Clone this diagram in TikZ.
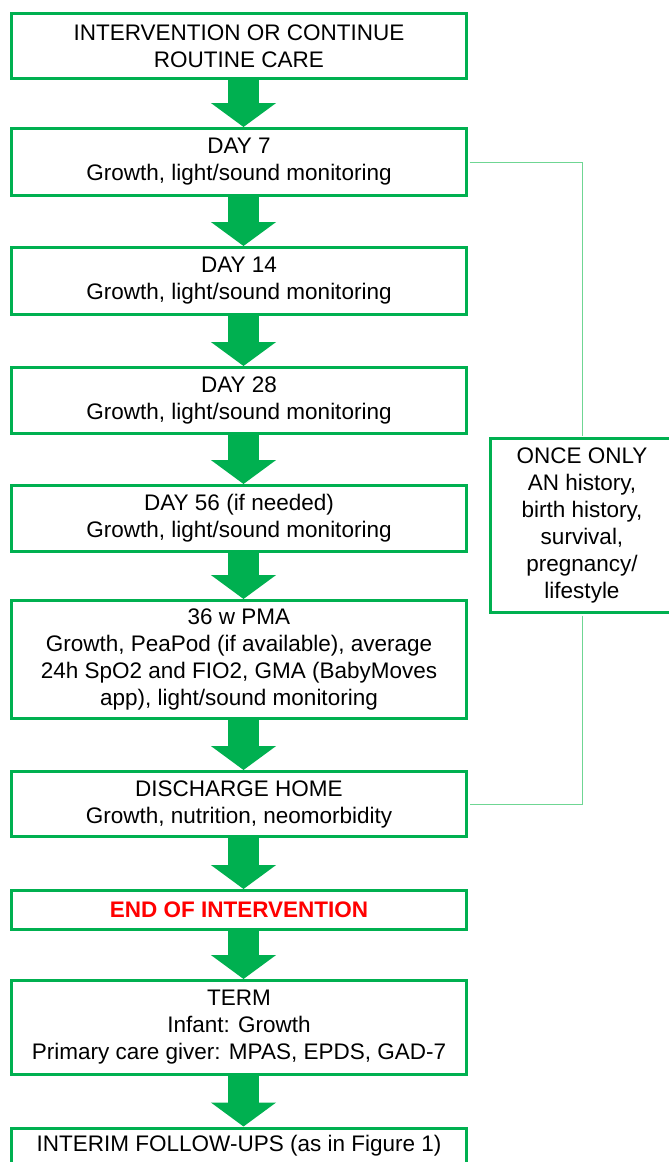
\documentclass[tikz,border=0pt]{standalone}
\usepackage{fontspec}
\setmainfont{Liberation Sans}
\usetikzlibrary{arrows.meta,calc}
\definecolor{grn}{HTML}{00B050}
\definecolor{lgrn}{HTML}{6FD693}
\definecolor{endred}{HTML}{FF0000}
\begin{document}
\begin{tikzpicture}[x=1pt,y=1pt,
  box/.style={draw=grn, line width=3pt, fill=white, align=center, minimum width=455pt, inner sep=0pt, font=\fontsize{22.5}{27}\selectfont},
  flow/.style={draw=grn, line width=31pt, -{Triangle[length=24pt,width=64pt]}},
  conn/.style={draw=lgrn, line width=1pt}]
\useasboundingbox (0,0) rectangle (669,-1162);
\clip (0,0) rectangle (669,-1162);
\fill[white] (0,0) rectangle (669,-1162);
\coordinate (ax) at (243.5,0);
\node[box, minimum height=65pt] (b1) at (239,-46) {INTERVENTION OR CONTINUE\\ROUTINE CARE};
\node[box, minimum height=67pt] (b2) at (239,-162) {DAY 7\\Growth, light/sound monitoring};
\node[box, minimum height=67pt] (b3) at (239,-281) {DAY 14\\Growth, light/sound monitoring};
\node[box, minimum height=66pt] (b4) at (239,-400.5) {DAY 28\\Growth, light/sound monitoring};
\node[box, minimum height=66pt] (b5) at (239,-518.5) {DAY 56 (if needed)\\Growth, light/sound monitoring};
\node[box, minimum height=118pt] (b6) at (239,-659.5) {36 w PMA\\Growth, PeaPod (if available), average\\24h SpO2 and FIO2, GMA (BabyMoves\\app), light/sound monitoring};
\node[box, minimum height=65pt] (b7) at (239,-804) {DISCHARGE HOME\\Growth, nutrition, neomorbidity};
\node[box, minimum height=39pt] (b8) at (239,-910) {\textcolor{endred}{\textbf{END OF INTERVENTION}}};
\node[box, minimum height=94pt] (b9) at (239,-1027.5) {TERM\\Infant: Growth\\Primary care giver: MPAS, EPDS, GAD-7};
\node[box, anchor=north, text height=23.5pt, text depth=50pt] (b10) at (239,-1126.5) {INTERIM FOLLOW-UPS (as in Figure 1)};
\node[box, minimum width=184pt, minimum height=174pt] (once) at (582,-525.5) {ONCE ONLY\\AN history,\\birth history,\\survival,\\pregnancy/\\lifestyle};
\foreach \a/\b in {b1/b2,b2/b3,b3/b4,b4/b5,b5/b6,b6/b7,b7/b8,b8/b9,b9/b10}
  \draw[flow] (\a.south -| ax) -- (\b.north -| ax);
\draw[conn, shorten <=1.5pt, shorten >=1.5pt] (b2.east) -| (once.north);
\draw[conn, shorten <=1.5pt, shorten >=1.5pt] (once.south) |- (b7.east);
\end{tikzpicture}
\end{document}
